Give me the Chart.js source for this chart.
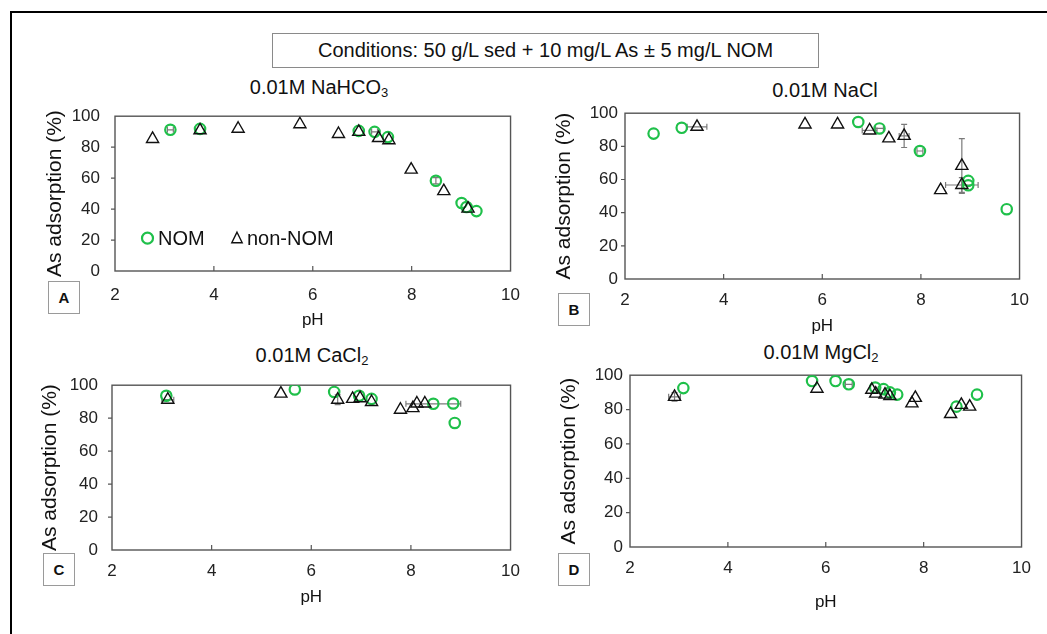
<!DOCTYPE html>
<html>
<head>
<meta charset="utf-8">
<script src="https://cdn.jsdelivr.net/npm/chart.js@4.4.1/dist/chart.umd.min.js"></script>
<style>
body{margin:0;width:1047px;height:634px;overflow:hidden;background:#fff;position:relative;font-family:"Liberation Sans",Arial,sans-serif;color:#111}
.frame{position:absolute;left:10px;top:11px;width:1100px;height:700px;border-left:2px solid #000;border-top:2px solid #000}
.cond{position:absolute;left:272px;top:33px;width:545px;height:33px;border:1.5px solid #8a8a8a;font-size:20px;line-height:33px;text-align:center}
.ttl{position:absolute;font-size:20px;line-height:24px;white-space:nowrap;transform:translateX(-50%)}
.ttl sub{font-size:13px;vertical-align:-3px;line-height:0}
.lbl{position:absolute;width:30px;height:31px;border:1px solid #9a9a9a;font-weight:bold;font-size:15px;text-align:center;line-height:31px}
canvas{position:absolute}
</style>
</head>
<body>
<div class="frame"></div>
<div class="cond">Conditions: 50 g/L sed + 10 mg/L As ± 5 mg/L NOM</div>
<div class="ttl" style="left:319px;top:75px">0.01M NaHCO<sub>3</sub></div>
<div class="ttl" style="left:825px;top:78px">0.01M NaCl</div>
<div class="ttl" style="left:312px;top:343px">0.01M CaCl<sub>2</sub></div>
<div class="ttl" style="left:821px;top:340px">0.01M MgCl<sub>2</sub></div>
<div class="lbl" style="left:48px;top:281px">A</div>
<div class="lbl" style="left:558px;top:293px">B</div>
<div class="lbl" style="left:43px;top:553px">C</div>
<div class="lbl" style="left:558px;top:553px">D</div>

<canvas id="chartA" width="491" height="240" style="left:43px;top:91px"></canvas>
<canvas id="chartB" width="488" height="241" style="left:552px;top:96px"></canvas>
<canvas id="chartC" width="493" height="247" style="left:38px;top:361px"></canvas>
<canvas id="chartD" width="485" height="255" style="left:557px;top:358px"></canvas>

<script>
const xTickVals=[2,4,6,8,10];
const yTickVals=[0,20,40,60,80,100];

/* A: 0.01M NaHCO3 */
const nahco3NomPH=[3.12,3.72,6.93,7.25,7.52,8.49,9.01,9.11,9.31];
const nahco3NomAds=[91.2,91.8,90.5,89.9,86.5,58.3,43.9,41.3,38.7];
const nahco3NomXErr=[0.06,0,0,0.06,0,0,0,0,0];
const nahco3NomYErr=[0,0,0,0,0,2,0,0,0];
const nahco3TriPH=[2.76,3.72,4.49,5.74,6.52,6.93,7.33,7.54,7.99,8.65,9.14];
const nahco3TriAds=[85.3,90.9,91.9,94.8,88.5,89.9,85.9,84.5,65.5,51.6,40.3];

/* B: 0.01M NaCl */
const naclNomPH=[2.58,3.15,6.73,7.16,7.98,8.96,8.96,9.74];
const naclNomAds=[87.7,91.2,94.7,90.8,77.2,59.2,56.5,42.1];
const naclNomXErr=[0,0,0,0.08,0.06,0,0,0];
const naclTriPH=[3.46,5.65,6.31,6.96,7.35,7.66,8.40,8.83,8.83];
const naclTriAds=[91.8,93.2,93.2,89.6,84.8,86.3,53.6,68.2,56.7];
const naclTriXErr=[0.2,0,0,0.15,0,0.1,0,0,0.33];
const naclTriYErr=[0,0,0,0,0,7,0,16.5,4.5];

/* C: 0.01M CaCl2 */
const caclNomPH=[3.09,5.67,6.46,6.96,7.21,8.45,8.85,8.88];
const caclNomAds=[93.6,97.4,95.9,93.6,91.7,88.7,88.9,77.1];
const caclNomXErr=[0,0,0,0,0,0.55,0,0];
const caclTriPH=[3.12,5.39,6.53,6.83,6.98,7.21,7.79,8.04,8.12,8.28];
const caclTriAds=[91.2,94.9,91.2,91.7,92.1,89.8,85.1,86.1,88.9,88.9];
const caclTriXErr=[0.12,0,0,0,0,0,0,0,0,0];
const caclTriYErr=[0,0,3,0,0,0,0,0,0,0];

/* D: 0.01M MgCl2 */
const mgclNomPH=[3.09,5.72,6.20,6.47,7.01,7.18,7.31,7.46,8.67,9.09];
const mgclNomAds=[92.5,96.6,96.6,94.7,92.8,91.9,90.0,88.7,81.7,88.7];
const mgclNomXErr=[0,0,0,0.07,0,0,0,0,0,0];
const mgclTriPH=[2.91,5.82,6.94,7.02,7.21,7.31,7.76,7.83,8.55,8.77,8.94];
const mgclTriAds=[87.4,92.1,91.5,89.3,88.7,87.8,83.6,86.8,77.4,82.7,81.7];
const mgclTriXErr=[0.12,0,0,0,0,0,0,0,0,0,0];
const mgclTriYErr=[2.5,0,0,0,0,0,0,0,0,0,0];

const GREEN="#1fc04a";
const FONT="'Liberation Sans', Arial, sans-serif";

function pts(xs,ys){return xs.map((x,i)=>({x,y:ys[i]}))}

/* frame, ticks and error bars */
const boxPlugin={
  id:"box",
  beforeDatasetsDraw(chart){
    const {ctx,chartArea:a,scales:{x,y}}=chart;
    ctx.save();
    ctx.strokeStyle="#555";ctx.lineWidth=1.4;
    ctx.strokeRect(a.left,a.top,a.right-a.left,a.bottom-a.top);
    ctx.lineWidth=1.2;
    ctx.beginPath();
    xTickVals.slice(1,-1).forEach(v=>{const px=x.getPixelForValue(v);ctx.moveTo(px,a.bottom);ctx.lineTo(px,a.bottom-5)});
    yTickVals.slice(1,-1).forEach(v=>{const py=y.getPixelForValue(v);ctx.moveTo(a.left,py);ctx.lineTo(a.left-4,py)});
    ctx.stroke();
    ctx.strokeStyle="#7a7a7a";ctx.lineWidth=1.2;
    chart.data.datasets.forEach(ds=>{
      ds.data.forEach((p,i)=>{
        const px=x.getPixelForValue(p.x),py=y.getPixelForValue(p.y);
        const xe=(ds.xErr||[])[i]||0,ye=(ds.yErr||[])[i]||0;
        ctx.beginPath();
        if(xe){
          const l=x.getPixelForValue(p.x-xe),r=x.getPixelForValue(p.x+xe);
          ctx.moveTo(l,py);ctx.lineTo(r,py);
          ctx.moveTo(l,py-3);ctx.lineTo(l,py+3);ctx.moveTo(r,py-3);ctx.lineTo(r,py+3);
        }
        if(ye){
          const t=y.getPixelForValue(p.y+ye),b=y.getPixelForValue(p.y-ye);
          ctx.moveTo(px,t);ctx.lineTo(px,b);
          ctx.moveTo(px-3,t);ctx.lineTo(px+3,t);ctx.moveTo(px-3,b);ctx.lineTo(px+3,b);
        }
        ctx.stroke();
      });
    });
    ctx.restore();
  }
};

/* legend drawn inside panel A */
const legendPlugin={
  id:"inlegend",
  afterDraw(chart,args,opts){
    if(!opts.show) return;
    const {ctx,chartArea:a}=chart;
    const cy=a.top+122;
    ctx.save();
    ctx.lineWidth=2.2;ctx.strokeStyle=GREEN;
    ctx.beginPath();ctx.arc(a.left+32.5,cy,5.5,0,Math.PI*2);ctx.stroke();
    const tx=a.left+122,r=6;
    ctx.strokeStyle="#111";ctx.lineWidth=1.4;
    ctx.beginPath();
    ctx.moveTo(tx,cy-r);ctx.lineTo(tx+r*0.866,cy+r*0.5+1.5);ctx.lineTo(tx-r*0.866,cy+r*0.5+1.5);ctx.closePath();ctx.stroke();
    ctx.fillStyle="#111";ctx.font="20px "+FONT;ctx.textBaseline="middle";
    ctx.fillText("NOM",a.left+43,cy+1);
    ctx.fillText("non-NOM",a.left+132,cy+1);
    ctx.restore();
  }
};

function makeChart(id,nom,tri,lay,legend){
  return new Chart(document.getElementById(id),{
    type:"scatter",
    data:{datasets:[
      {label:"non-NOM",data:pts(tri.ph,tri.ads),xErr:tri.xErr,yErr:tri.yErr,
        pointStyle:"triangle",radius:7,hoverRadius:7,borderColor:"#111",borderWidth:1.4,backgroundColor:"rgba(0,0,0,0)"},
      {label:"NOM",data:pts(nom.ph,nom.ads),xErr:nom.xErr,yErr:nom.yErr,
        pointStyle:"circle",radius:5.2,hoverRadius:5.2,borderColor:GREEN,borderWidth:2.2,backgroundColor:"rgba(0,0,0,0)"}
    ]},
    options:{
      responsive:false,animation:false,
      layout:{padding:{top:12,right:16,left:0,bottom:0},autoPadding:false},
      plugins:{legend:{display:false},tooltip:{enabled:false},inlegend:{show:legend}},
      scales:{
        x:{type:"linear",min:2,max:10,
          afterBuildTicks:s=>{s.ticks=xTickVals.map(v=>({value:v}))},
          afterFit:s=>{s.height=lay.xh},
          grid:{display:false,drawTicks:false},border:{display:false},
          ticks:{padding:lay.xPad,color:"#222",font:{family:FONT,size:17}},
          title:{display:true,text:"pH",padding:0,color:"#111",font:{family:FONT,size:17}}},
        y:{type:"linear",min:0,max:100,
          afterBuildTicks:s=>{s.ticks=yTickVals.map(v=>({value:v}))},
          afterFit:s=>{s.width=lay.yw},
          grid:{display:false,drawTicks:false},border:{display:false},
          ticks:{padding:lay.yPad,color:"#222",font:{family:FONT,size:17}},
          title:{display:true,text:"As adsorption (%)",padding:0,color:"#111",font:{family:FONT,size:21}}}
      }
    },
    plugins:[boxPlugin,legendPlugin]
  });
}

makeChart("chartA",
  {ph:nahco3NomPH,ads:nahco3NomAds,xErr:nahco3NomXErr,yErr:nahco3NomYErr},
  {ph:nahco3TriPH,ads:nahco3TriAds},
  {yw:72,xh:60,yPad:15,xPad:14},true);
makeChart("chartB",
  {ph:naclNomPH,ads:naclNomAds,xErr:naclNomXErr},
  {ph:naclTriPH,ads:naclTriAds,xErr:naclTriXErr,yErr:naclTriYErr},
  {yw:73,xh:58,yPad:7,xPad:11},false);
makeChart("chartC",
  {ph:caclNomPH,ads:caclNomAds,xErr:caclNomXErr},
  {ph:caclTriPH,ads:caclTriAds,xErr:caclTriXErr,yErr:caclTriYErr},
  {yw:74,xh:58,yPad:14,xPad:11},false);
makeChart("chartD",
  {ph:mgclNomPH,ads:mgclNomAds,xErr:mgclNomXErr},
  {ph:mgclTriPH,ads:mgclTriAds,xErr:mgclTriXErr,yErr:mgclTriYErr},
  {yw:73,xh:66,yPad:7,xPad:11},false);
</script>
</body>
</html>
